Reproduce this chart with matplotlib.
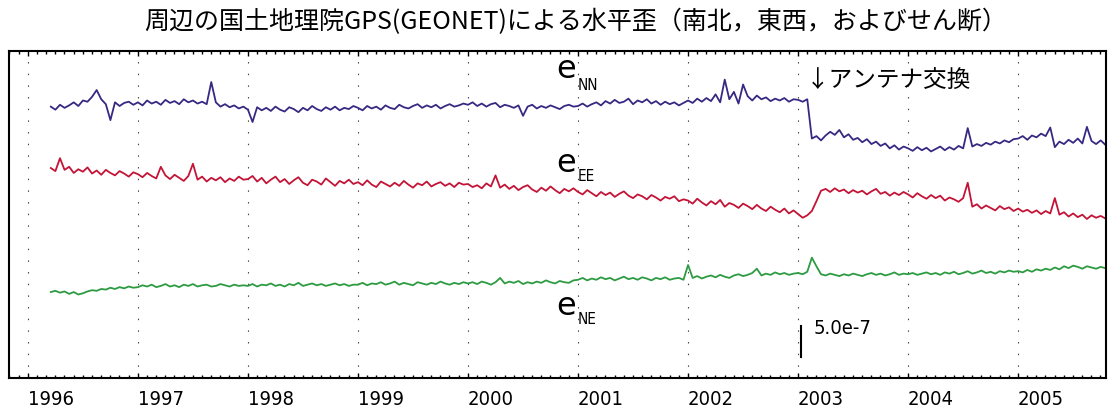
import numpy as np
import matplotlib
matplotlib.use("Agg")
import matplotlib.pyplot as plt
from matplotlib.ticker import MultipleLocator, FormatStrFormatter

# semi-monthly samples, 1996.21 .. 2005.80 (decimal years)
t_start = 1996.21
n_per_year = 24

# strain change, units of 1e-7
e_nn = [
    0.2, -0.3, 0.5, 0.0, 0.4, 0.9, 0.3, 1.2, 1.0, 1.8, 2.9, 1.4, 0.6, -2.0, 0.9, 0.3, 0.8, 1.0, 0.5,
    0.9, 0.4, 1.2, 0.7, 1.0, 0.5, 1.3, 0.8, 1.1, 0.6, 1.4, 0.9, 1.2, 0.7, 1.0, 0.6, 4.2, 0.9, 0.2, 0.6, 0.1, 0.4, -0.1, 0.2,
    -0.3, -2.3, 0.1, -0.4, 0.0, -0.5, 0.2, -0.3, -0.6, 0.1, -0.2, -0.7, 0.0, -0.4, 0.3, -0.2, -0.5, 0.1, -0.3, 0.2, -0.4, 0.0, -0.2, 0.3,
    0.0, -0.4, 0.3, -0.1, 0.2, -0.3, 0.4, 0.0, -0.2, 0.5, 0.1, -0.1, 0.3, 0.6, 0.0, 0.4, 0.1, 0.5, -0.1, 0.3, 0.6, 0.2, 0.4, 0.7,
    0.5, 0.9, 0.3, 0.7, 0.2, 0.6, 0.8, 0.1, 0.5, 0.3, 0.0, 0.4, -1.3, 0.2, 0.5, -0.1, 0.3, 0.0, 0.4, 0.1, -0.2, 0.3, 0.5, 0.2,
    0.3, 0.7, 0.2, 0.6, 0.9, 0.4, 1.1, 0.7, 1.3, 0.8, 1.0, 1.5, 0.6, 1.2, 0.9, 1.4, 0.7, 1.1, 0.5, 1.0, 0.6, 0.9, 0.4, 0.8,
    1.2, 0.8, 1.5, 1.0, 1.6, 1.1, 2.2, 0.9, 4.6, 1.4, 2.6, 0.7, 3.8, 1.9, 1.2, 2.0, 1.4, 1.7, 1.1, 1.5, 1.2, 1.6, 1.0, 1.4,
    1.3, 1.0, 1.4, -5.0, -4.6, -5.3, -4.5, -3.9, -4.4, -3.6, -4.8, -4.3, -5.2, -4.9, -5.6, -5.1, -5.9, -5.5, -6.2, -5.8, -6.6, -6.1, -6.8, -6.3,
    -6.6, -7.0, -6.4, -6.9, -6.5, -7.1, -6.7, -6.3, -6.9, -6.4, -6.8, -6.2, -6.6, -3.3, -6.3, -5.9, -6.2, -5.7, -6.0, -5.5, -5.8, -5.3, -5.6, -5.1,
    -5.0, -4.6, -5.2, -4.5, -4.8, -4.2, -4.6, -3.2, -6.4, -5.5, -5.9, -5.2, -5.7, -5.0, -5.8, -3.1, -5.4, -5.9, -5.3, -6.0,
]

e_ee = [
    0.0, -0.5, 1.6, -0.3, 0.2, -0.8, -0.2, -0.6, 0.1, -0.9, -0.4, -1.1, -0.3, -0.8, -1.2, -0.5, -0.9, -1.4, -0.7,
    -1.0, -1.5, -0.8, -1.3, -1.7, 0.2, -1.2, -1.8, -1.1, -1.6, -2.1, -1.3, 0.7, -1.9, -1.4, -2.2, -1.6, -2.0, -1.5, -2.3, -1.7, -2.1, -1.4, -1.9,
    -1.8, -1.3, -2.2, -1.6, -2.5, -1.9, -1.4, -2.3, -1.8, -2.6, -2.0, -1.5, -2.4, -2.8, -1.9, -2.2, -2.7, -1.7, -2.3, -2.9, -2.1, -2.5, -1.9, -2.6,
    -2.3, -2.8, -2.0, -2.7, -3.1, -2.2, -2.6, -3.0, -2.4, -2.9, -2.1, -2.7, -3.2, -2.5, -2.8, -2.2, -3.0, -2.6, -2.3, -2.9, -2.5, -3.1, -2.4, -2.7,
    -2.6, -3.1, -2.8, -3.3, -2.5, -3.0, -1.2, -3.2, -2.7, -3.4, -2.9, -3.6, -3.1, -2.8, -3.5, -3.9, -3.2, -3.7, -3.0, -3.6, -4.1, -3.4, -3.8, -3.3,
    -3.9, -4.3, -3.6, -4.1, -4.6, -3.9, -4.4, -4.0, -4.7, -4.2, -3.8, -4.5, -4.9, -4.3, -4.6, -5.1, -4.4, -4.8, -5.3, -4.7, -5.0, -4.6, -5.4, -5.1,
    -5.3, -5.8, -5.0, -5.6, -6.1, -5.4, -5.9, -5.2, -6.3, -5.7, -6.0, -6.5, -5.8, -6.2, -6.7, -6.0, -6.6, -7.0, -6.3, -6.8, -7.2, -6.6, -7.4, -6.9,
    -7.5, -8.1, -7.7, -7.0, -5.4, -3.7, -3.4, -3.9, -3.3, -3.8, -3.5, -4.1, -3.6, -4.0, -3.7, -4.3, -3.8, -3.4, -4.2, -3.9, -4.5, -4.0, -4.4, -3.9,
    -4.3, -4.8, -4.1, -4.6, -5.0, -4.4, -4.9, -4.5, -5.3, -4.8, -5.1, -5.5, -4.9, -2.4, -6.3, -5.9, -6.6, -6.1, -6.5, -6.9, -6.2, -6.7, -6.4, -7.0,
    -6.6, -7.1, -6.8, -7.3, -6.9, -7.5, -7.0, -7.4, -4.9, -7.6, -7.2, -7.9, -7.4, -8.0, -7.6, -8.3, -7.7, -8.1, -7.8, -8.2,
]

e_ne = [
    0.0, 0.2, -0.1, 0.1, -0.3, 0.0, -0.4, -0.2, 0.1, 0.3, 0.2, 0.5, 0.4, 0.7, 0.5, 0.8, 0.6, 0.9, 0.7,
    0.8, 1.1, 0.9, 1.2, 0.8, 1.0, 1.3, 0.9, 1.1, 0.8, 1.2, 1.0, 1.3, 0.9, 1.1, 1.2, 0.9, 1.0, 1.3, 1.1, 0.9, 1.2, 1.0, 1.1,
    1.0, 1.3, 0.9, 1.2, 1.1, 1.4, 1.0, 1.2, 0.9, 1.3, 1.1, 1.5, 1.0, 1.2, 1.4, 1.1, 1.3, 1.0, 1.2, 1.4, 1.1, 1.3, 1.0, 1.2,
    1.2, 1.5, 1.1, 1.4, 1.3, 1.6, 1.2, 1.4, 1.7, 1.2, 1.5, 1.3, 1.1, 1.6, 1.4, 1.2, 1.5, 1.3, 1.7, 1.4, 1.2, 1.5, 1.3, 1.6,
    1.4, 1.6, 1.3, 1.7, 1.5, 1.2, 1.6, 2.3, 1.4, 1.7, 1.5, 1.8, 1.3, 1.6, 1.4, 1.7, 1.5, 1.9, 1.6, 1.4, 1.8, 1.6, 1.5, 1.9,
    2.0, 2.3, 1.9, 2.2, 2.0, 2.4, 2.1, 2.3, 1.9, 2.2, 2.5, 2.1, 2.3, 2.0, 2.4, 2.2, 1.9, 2.3, 2.1, 2.4, 2.0, 2.2, 2.3, 2.0,
    4.4, 2.3, 2.6, 2.2, 2.5, 2.7, 2.4, 2.8, 2.5, 2.3, 2.7, 2.9, 2.6, 2.8, 3.1, 3.8, 2.7, 3.0, 2.8, 3.2, 2.9, 3.1, 2.8, 3.0,
    3.1, 2.9, 3.3, 5.6, 4.2, 2.9, 2.7, 3.0, 2.8, 2.6, 2.9, 2.7, 3.0, 2.8, 2.6, 2.9, 3.1, 2.8, 3.0, 2.7, 2.9, 3.2, 2.8, 3.0,
    2.9, 3.1, 2.8, 3.0, 3.2, 2.9, 3.1, 2.8, 3.2, 3.0, 3.3, 2.9, 3.1, 3.4, 3.0, 3.2, 3.5, 3.1, 3.3, 3.0, 3.4, 3.2, 3.5, 3.3,
    3.4, 3.2, 3.6, 3.3, 3.7, 3.5, 3.8, 3.6, 4.0, 3.7, 4.2, 3.9, 4.3, 4.1, 3.8, 4.2, 4.0, 3.8, 4.1, 3.9,
]

# vertical offsets used to stack the three components
offsets = {"NN": 44.0, "EE": 34.2, "NE": 14.0}
colors = {"NN": "#372882", "EE": "#c31437", "NE": "#2d9b41"}

years = list(range(1996, 2006))
antenna_change = 2003.08
scale_len = 5.0  # 5.0e-7

jp = ["Noto Sans CJK JP", "DejaVu Sans"]
narrow = ["DejaVu Sans"]

t = t_start + np.arange(len(e_nn)) / n_per_year

fig = plt.figure(figsize=(11.1, 4.19), dpi=100)
ax = fig.add_axes([9 / 1110, 41 / 419, 1097 / 1110, 327 / 419])

for key, vals in (("NN", e_nn), ("EE", e_ee), ("NE", e_ne)):
    ax.plot(t, np.array(vals) + offsets[key], color=colors[key], lw=1.3)

for y in years:
    ax.axvline(y, color="#444444", lw=0.8, ls=(0, (1.3, 9.2)), zorder=0)

ax.set_xlim(1995.83, 2005.80)
ax.set_ylim(0, 53.26)

ax.xaxis.set_major_locator(MultipleLocator(1))
ax.xaxis.set_minor_locator(MultipleLocator(1 / 12))
ax.xaxis.set_major_formatter(FormatStrFormatter("%d"))
ax.tick_params(axis="x", which="both", direction="in", top=True, bottom=True, width=1, pad=8.5)
ax.tick_params(axis="x", which="major", length=3.8)
ax.tick_params(axis="x", which="minor", length=2.2)
ax.set_yticks([])
for lab in ax.get_xticklabels():
    lab.set_horizontalalignment("left")
    lab.set_family(narrow)
    lab.set_stretch("condensed")
    lab.set_fontsize(14.5)
for sp in ax.spines.values():
    sp.set_linewidth(1.5)

# component labels
for key, (ye, ys) in {"NN": (50.2, 47.6), "EE": (34.9, 32.9), "NE": (11.7, 9.6)}.items():
    ax.text(2000.89, ye, "e", fontsize=23, ha="center", va="center", family=narrow)
    ax.text(2001.0, ys, key, fontsize=11, ha="left", va="center", family=narrow, stretch="condensed")

ax.text(antenna_change - 0.005, 48.4, "↓アンテナ交換", fontsize=17, ha="left", va="center", family=jp)

# scale bar
ax.plot([2003.03, 2003.03], [3.47, 3.47 + scale_len], color="black", lw=1.5)
ax.text(2003.14, 8.0, "5.0e-7", fontsize=14.5, ha="left", va="center", family=narrow, stretch="condensed")

fig.text(0.519, 0.9475, "周辺の国土地理院GPS(GEONET)による水平歪（南北，東西，およびせん断）",
         fontsize=18, ha="center", va="center", family=jp)

fig.savefig("out.png", dpi=100)
